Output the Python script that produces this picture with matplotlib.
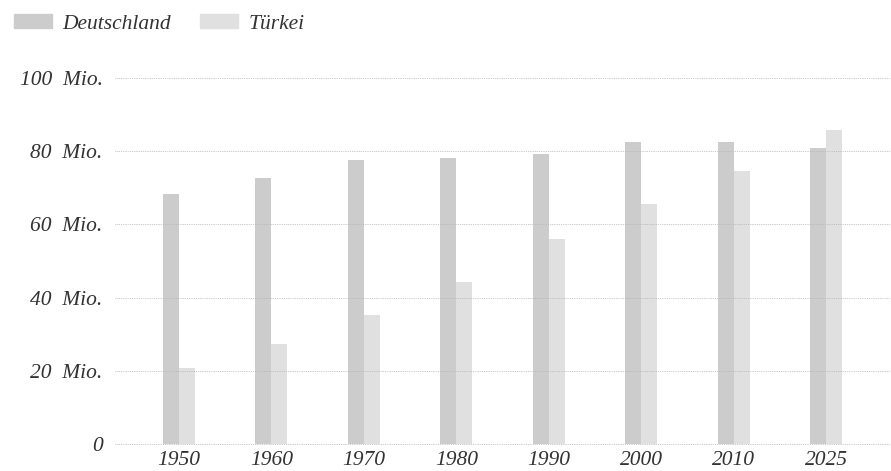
import matplotlib
matplotlib.use("Agg")
import matplotlib.pyplot as plt
import numpy as np
from matplotlib.patches import Patch

years = ["1950", "1960", "1970", "1980", "1990", "2000", "2010", "2025"]
deutschland = [68.3, 72.7, 77.6, 78.1, 79.2, 82.5, 82.5, 80.9]
tuerkei = [20.8, 27.3, 35.2, 44.3, 56.0, 65.6, 74.6, 85.8]
yticks = [0, 20, 40, 60, 80, 100]
ytick_labels = ["0", "20  Mio.", "40  Mio.", "60  Mio.", "80  Mio.", "100  Mio."]

c_de = "#cccccc"
c_tr = "#e0e0e0"
txt = "#333333"
fam = ["Liberation Serif", "DejaVu Serif"]
fs = 15.5

fig = plt.figure(figsize=(8.91, 4.71), dpi=100)
ax = fig.add_axes([115/891, 1 - 444/471, 1 - 115/891, (444 - 78)/471])

x = np.arange(len(years))
w = 0.172
ax.bar(x - w/2, deutschland, width=w, color=c_de, zorder=2)
ax.bar(x + w/2, tuerkei, width=w, color=c_tr, zorder=2)

for yt in yticks:
    ax.axhline(yt, color="#b5b5b5", linestyle=(0, (1, 1.2)), linewidth=0.6, zorder=3, clip_on=False)

ax.set_xlim(-0.69, 7.70)
ax.set_ylim(0, 100)
ax.set_xticks(x)
ax.set_xticklabels(years, fontsize=fs, fontstyle="italic", family=fam, color=txt)
ax.set_yticks(yticks)
ax.set_yticklabels(ytick_labels, fontsize=fs, fontstyle="italic", family=fam, color=txt)
ax.tick_params(axis="both", length=0)
ax.tick_params(axis="y", pad=9)
ax.tick_params(axis="x", pad=5)
for s in ax.spines.values():
    s.set_visible(False)

handles = [Patch(color=c_de, label="Deutschland"), Patch(color=c_tr, label="Türkei")]
leg = fig.legend(handles=handles, loc="upper left", bbox_to_anchor=(0.0, 1.0), ncol=2,
                 frameon=False, handlelength=1.75, handleheight=0.65, handletextpad=0.5,
                 columnspacing=1.35, borderaxespad=0.25,
                 prop={"family": fam, "style": "italic", "size": fs})
for t in leg.get_texts():
    t.set_color(txt)

fig.savefig("out.png", dpi=100)
